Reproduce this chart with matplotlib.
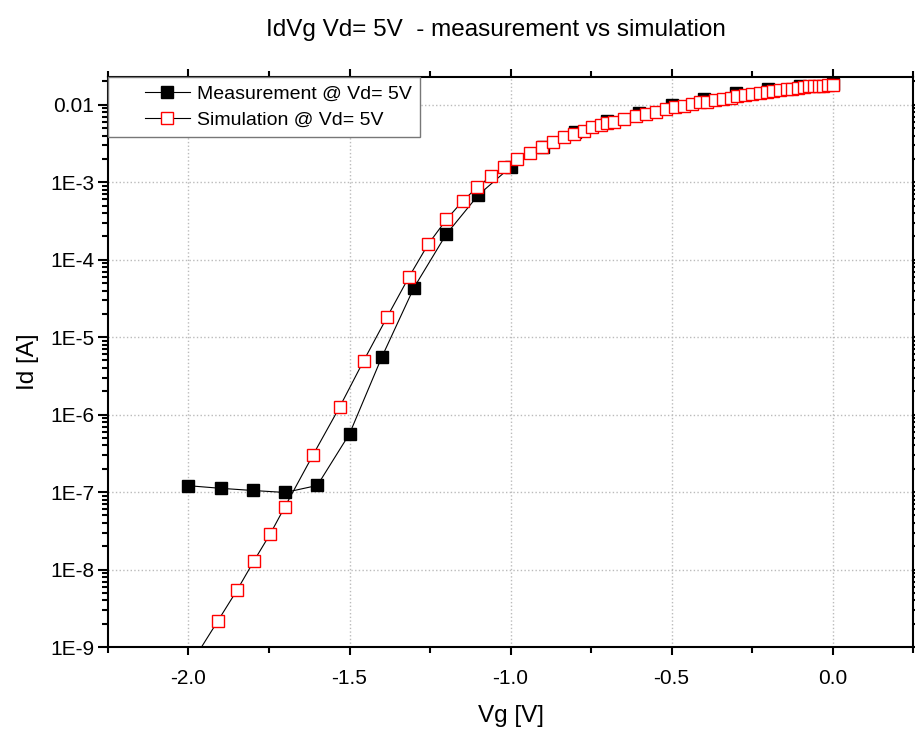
import numpy as np
import matplotlib
matplotlib.use("Agg")
import matplotlib.pyplot as plt
from matplotlib.ticker import FixedLocator, FuncFormatter, LogLocator, MultipleLocator
from matplotlib.legend_handler import HandlerLine2D

plt.rcParams['font.family'] = ['Liberation Sans', 'DejaVu Sans']

# measurement, Vd = 5 V
vg_meas = [-2.0, -1.9, -1.8, -1.7, -1.6, -1.5, -1.4, -1.3, -1.2, -1.1, -1.0,
           -0.9, -0.8, -0.7, -0.6, -0.5, -0.4, -0.3, -0.2, -0.1, 0.0]
id_meas = [1.21e-7, 1.12e-7, 1.05e-7, 9.9e-8, 1.22e-7, 5.66e-7, 5.5e-6, 4.35e-5,
           2.12e-4, 6.84e-4, 1.57e-3, 2.88e-3, 4.5e-3, 6.2e-3, 7.9e-3, 1.0e-2,
           1.19e-2, 1.4e-2, 1.59e-2, 1.76e-2, 1.85e-2]

# simulation, Vd = 5 V
vg_sim = [-2.0, -1.909, -1.849, -1.797, -1.746, -1.701, -1.613, -1.530, -1.456,
          -1.383, -1.316, -1.256, -1.199, -1.149, -1.103, -1.062, -1.021, -0.981,
          -0.941, -0.902, -0.867, -0.834, -0.803, -0.772, -0.746, -0.720, -0.700,
          -0.679, -0.648, -0.612, -0.581, -0.550, -0.516, -0.488, -0.462, -0.436,
          -0.413, -0.389, -0.366, -0.341, -0.317, -0.296, -0.273, -0.249, -0.226,
          -0.205, -0.184, -0.164, -0.143, -0.125, -0.107, -0.089, -0.074, -0.058,
          -0.043, -0.029, -0.013, 0.0]
id_sim = [5.4e-10, 2.17e-9, 5.45e-9, 1.29e-8, 2.9e-8, 6.44e-8, 3.04e-7, 1.27e-6,
          4.97e-6, 1.83e-5, 5.93e-5, 1.58e-4, 3.31e-4, 5.69e-4, 8.63e-4, 1.19e-3,
          1.56e-3, 1.98e-3, 2.41e-3, 2.88e-3, 3.34e-3, 3.8e-3, 4.19e-3, 4.63e-3,
          5.1e-3, 5.48e-3, 5.81e-3, 6.04e-3, 6.54e-3, 7.22e-3, 7.66e-3, 8.13e-3,
          8.81e-3, 9.23e-3, 9.62e-3, 1.02e-2, 1.07e-2, 1.10e-2, 1.15e-2, 1.20e-2,
          1.24e-2, 1.31e-2, 1.33e-2, 1.37e-2, 1.42e-2, 1.47e-2, 1.51e-2, 1.55e-2,
          1.59e-2, 1.62e-2, 1.66e-2, 1.69e-2, 1.72e-2, 1.74e-2, 1.76e-2, 1.77e-2,
          1.79e-2, 1.81e-2]

y_ticks = [1e-9, 1e-8, 1e-7, 1e-6, 1e-5, 1e-4, 1e-3, 1e-2]


def fmt_y(v, pos):
    if abs(v - 1e-2) < 1e-6:
        return '0.01'
    return '1E%d' % int(round(np.log10(v)))


fig = plt.figure(figsize=(9.15, 7.32), dpi=100)
ax = fig.add_axes([0.118, 0.116, 0.880, 0.779])

ax.plot(vg_meas, id_meas, '-s', color='black', lw=0.8, ms=9,
        mfc='black', mec='black', label='Measurement @ Vd= 5V')
ax.plot(vg_sim, id_sim, '-s', color='black', lw=0.8, ms=8.5,
        mfc='white', mec='red', mew=1.0, label='Simulation @ Vd= 5V')

ax.set_yscale('log')
ax.set_xlim(-2.25, 0.25)
ax.set_ylim(1e-9, 0.0229)

ax.xaxis.set_major_locator(MultipleLocator(0.5))
ax.xaxis.set_minor_locator(MultipleLocator(0.25))
ax.xaxis.set_major_formatter(FuncFormatter(lambda v, p: '%.1f' % v))
ax.yaxis.set_major_locator(FixedLocator(y_ticks))
ax.yaxis.set_minor_locator(LogLocator(base=10, subs=np.arange(2, 10)))
ax.yaxis.set_major_formatter(FuncFormatter(fmt_y))
ax.yaxis.set_minor_formatter(FuncFormatter(lambda v, p: ''))

ax.grid(True, which='major', linestyle=':', color='#bbbbbb', lw=1.0)

for s in ax.spines.values():
    s.set_linewidth(1.5)

ax.tick_params(axis='both', which='both', direction='out', top=True, right=True,
               width=1.5, labelsize=15)
ax.tick_params(axis='y', which='major', length=7, pad=3)
ax.tick_params(axis='y', which='minor', length=4)
ax.tick_params(axis='x', which='major', length=6, pad=10)
ax.tick_params(axis='x', which='minor', length=4)

ax.set_xlabel('Vg [V]', fontsize=17.5, labelpad=12)
ax.set_ylabel('Id [A]', fontsize=17.5, labelpad=8)

fig.text(0.542, 0.959, 'IdVg Vd= 5V  - measurement vs simulation',
         ha='center', va='center', fontsize=17.5)

leg = ax.legend(loc='upper left', borderaxespad=0, fontsize=14, fancybox=False,
                framealpha=1, edgecolor='#777777', borderpad=0.45,
                labelspacing=0.4, handlelength=3.77, handletextpad=0.35,
                handler_map={plt.Line2D: HandlerLine2D(numpoints=1, xpad=1.45)})
leg.get_frame().set_linewidth(1.0)

fig.savefig('out.png', dpi=100)
